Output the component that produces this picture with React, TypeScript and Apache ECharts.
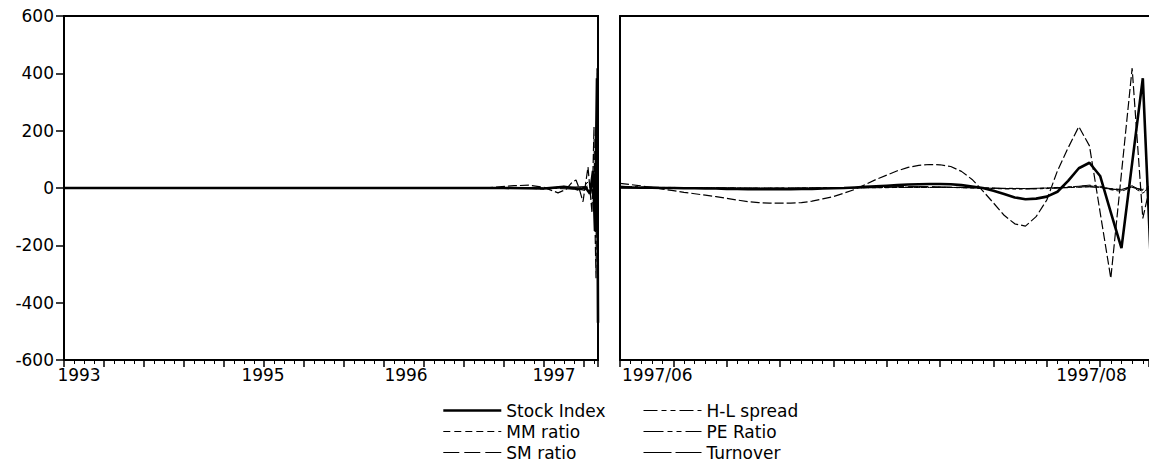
import React, { useEffect, useRef } from 'react';
import * as echarts from 'echarts';

// ---------- axis / tick data ----------
const yMin = -600;
const yMax = 600;
const yStep = 200;

// left panel: whole sample (positions in axis units)
const leftAxisMax = 53.4;
const leftTickLabels = ['1993', '1995', '1996', '1997'];
const leftTickPos = [1.5, 19.9, 34.2, 49.0];

// right panel: daily observations 0..50 (1997/06 - 1997/08); the panel is cut at the page edge
const rightAxisMax = 49.58;
const rightTickLabels = ['1997/06', '1997/08'];
const rightTickPos = [3.5, 44.2];

// ---------- series (right panel, one value per observation) ----------
const stockIndex = [3, 2, 1, 1, 0, 0, -1, -1, -2, -2, -3, -3, -4, -4, -4, -4, -4, -3, -3, -2, -1, 0, 2, 4, 6, 8, 10, 12, 13, 14, 14, 13, 10, 5, 0, -10, -21, -33, -39, -37, -30, -13, 25, 69, 88, 42, -85, -210, 87, 383, -470];
const hlSpread = [6, 5, 4, 3, 2, 2, 1, 1, 0, 0, 0, -1, -1, -1, -1, -1, -1, -1, 0, 0, 0, 0, 1, 1, 2, 2, 3, 3, 3, 3, 3, 2, 2, 1, 0, -1, -2, -3, -3, -3, -2, 0, 3, 6, 10, 6, -3, -8, 2, -5, 12];
const mmRatio = [2, 2, 1, 1, 1, 0, 0, 0, 0, 0, -1, -1, -1, -1, -1, -1, -1, 0, 0, 0, 0, 0, 1, 1, 1, 2, 2, 2, 2, 2, 2, 2, 1, 0, -1, -2, -3, -3, -3, -2, 0, 2, 4, 6, 8, 3, -6, -12, 4, -18, 10];
const peRatio = [1, 1, 1, 1, 0, 0, 0, 0, 0, 0, 0, 0, -1, -1, -1, -1, -1, -1, -1, 0, 0, 0, 0, 1, 1, 1, 2, 2, 2, 2, 2, 2, 1, 1, 0, 0, -1, -1, -2, -2, -1, 0, 1, 3, 4, 2, -2, -5, 3, -8, 6];
const smRatio = [16, 12, 7, 2, -4, -9, -15, -20, -25, -30, -36, -42, -48, -51, -53, -53, -53, -51, -46, -38, -30, -18, -5, 12, 30, 45, 60, 72, 79, 82, 81, 75, 58, 30, -10, -52, -95, -125, -133, -100, -42, 60, 140, 214, 147, -85, -315, 52, 418, -106, 60];
const turnover = [0, 0, 0, 0, 0, 0, 0, 0, 0, 0, 0, 0, 0, 0, 0, 0, 0, 0, 0, 0, 0, 0, 1, 2, 3, 4, 5, 5, 5, 5, 4, 3, 2, 1, 0, -1, -2, -2, -2, -1, 0, 1, 2, 3, 5, 2, -4, -6, 8, -13, 5];

// ---------- series (left panel, whole sample, [position, value]) ----------
const stockIndexFull = [[0, 0], [44, 0], [48, -2], [50, 4], [51.5, -3], [52.2, 0], [52.6, -20], [52.9, 60], [53.1, -150], [53.3, 383], [53.4, -470]];
const hlSpreadFull = [[0, 0], [47, 0], [50.5, 3], [52, -8], [53, 15], [53.4, -20]];
const mmRatioFull = [[0, 0], [46, 0], [48, -4], [50, 6], [51.6, -10], [52.5, 25], [53, -40], [53.4, 10]];
const peRatioFull = [[0, 0], [48, 0], [51, -4], [52.8, 10], [53.4, -8]];
const smRatioFull = [[0, 0], [42, 0], [45, 8], [46.5, 10], [48, 2], [49.4, -17], [50.2, -5], [50.8, 20], [51.2, 28], [51.5, 0], [51.9, -48], [52.4, 73], [52.8, -87], [53.0, 213], [53.1, -133], [53.2, -315], [53.3, 418], [53.4, -106]];
const turnoverFull = [[0, 0], [49, 0], [52, 5], [53.2, -10], [53.4, 5]];

const names = ['Stock Index', 'H-L spread', 'MM ratio', 'PE Ratio', 'SM ratio', 'Turnover'];
const rightData = [stockIndex, hlSpread, mmRatio, peRatio, smRatio, turnover];
const leftData = [stockIndexFull, hlSpreadFull, mmRatioFull, peRatioFull, smRatioFull, turnoverFull];

const plotDash: any[] = ['solid', [12, 3, 3, 3, 3, 3], [4, 3], [14, 3, 4, 3, 4, 3], [9, 3], [20, 4]];
const legendDash: any[] = ['solid', [14, 4, 5, 4, 5, 4], [7, 4], [20, 4, 5, 4, 5, 4], [16, 5], [28, 4]];
const lineWidths = [2.6, 1, 1, 1, 1.2, 1];

const FONT = 'DejaVu Sans';

function pickLabel(labels: string[], pos: number[]) {
  return (v: number) => {
    for (let i = 0; i < pos.length; i++) {
      if (Math.abs(pos[i] - v) < 1e-6) return labels[i];
    }
    return '';
  };
}

export default function App() {
  const ref = useRef<HTMLDivElement>(null);

  useEffect(() => {
    if (!ref.current) return;
    const chart = echarts.init(ref.current, undefined, { renderer: 'svg' });

    const axisLineStyle = { color: '#000', width: 2 };
    const labelStyle = { color: '#000', fontSize: 17, fontFamily: FONT };

    const series: any[] = [];
    // thin series first, Stock Index last (drawn on top)
    const order = [1, 2, 3, 4, 5, 0];
    for (const i of order) {
      series.push({
        name: names[i],
        type: 'line',
        xAxisIndex: 0,
        yAxisIndex: 0,
        symbol: 'none',
        data: leftData[i],
        lineStyle: { color: '#000', width: lineWidths[i], type: plotDash[i] },
        itemStyle: { color: '#000' },
      });
      series.push({
        name: names[i],
        type: 'line',
        xAxisIndex: 1,
        yAxisIndex: 1,
        symbol: 'none',
        data: rightData[i].map((v, k) => [k, v]),
        lineStyle: { color: '#000', width: lineWidths[i], type: plotDash[i] },
        itemStyle: { color: '#000' },
      });
    }

    const legendItem = (i: number) => ({
      name: names[i],
      itemStyle: { opacity: 0, borderWidth: 0 },
      lineStyle: { color: '#000', width: lineWidths[i], type: legendDash[i], opacity: 1 },
    });

    const legendBase = {
      orient: 'vertical',
      top: 402,
      padding: 0,
      itemWidth: 58,
      itemHeight: 14,
      itemGap: 4,
      textStyle: { fontSize: 17, fontFamily: FONT, color: '#000' },
    };

    chart.setOption({
      animation: false,
      backgroundColor: '#fff',
      textStyle: { fontFamily: FONT, color: '#000' },
      grid: [
        { left: 64, top: 16, width: 534, height: 344, show: true, borderColor: '#000', borderWidth: 2 },
        { left: 620, top: 16, width: 529, height: 344, show: false },
      ],
      xAxis: [
        {
          type: 'value',
          gridIndex: 0,
          min: 0,
          max: leftAxisMax,
          interval: 4,
          axisLine: { onZero: false, lineStyle: axisLineStyle },
          axisTick: { show: true, length: 7, lineStyle: { color: '#000', width: 1.5 } },
          minorTick: { show: true, splitNumber: 4, length: 4, lineStyle: { color: '#000', width: 1 } },
          splitLine: { show: false },
          minorSplitLine: { show: false },
          axisLabel: {
            ...labelStyle,
            margin: 6,
            customValues: leftTickPos,
            formatter: pickLabel(leftTickLabels, leftTickPos),
          },
        },
        {
          type: 'value',
          gridIndex: 1,
          min: 0,
          max: rightAxisMax,
          interval: 5,
          axisLine: { onZero: false, lineStyle: axisLineStyle },
          axisTick: { show: true, length: 7, lineStyle: { color: '#000', width: 1.5 } },
          minorTick: { show: true, splitNumber: 5, length: 4, lineStyle: { color: '#000', width: 1 } },
          splitLine: { show: false },
          minorSplitLine: { show: false },
          axisLabel: {
            ...labelStyle,
            margin: 6,
            customValues: rightTickPos,
            formatter: pickLabel(rightTickLabels, rightTickPos),
          },
        },
        {
          // top border of the right panel
          type: 'value',
          gridIndex: 1,
          position: 'top',
          min: 0,
          max: rightAxisMax,
          axisLine: { show: true, onZero: false, lineStyle: axisLineStyle },
          axisTick: { show: false },
          axisLabel: { show: false },
          splitLine: { show: false },
        },
      ],
      yAxis: [
        {
          type: 'value',
          gridIndex: 0,
          min: yMin,
          max: yMax,
          interval: yStep,
          axisLine: { show: true, onZero: false, lineStyle: axisLineStyle },
          axisTick: { show: true, length: 8, lineStyle: { color: '#000', width: 1.5 } },
          splitLine: { show: false },
          axisLabel: { ...labelStyle, margin: 10 },
        },
        {
          type: 'value',
          gridIndex: 1,
          min: yMin,
          max: yMax,
          interval: yStep,
          axisLine: { show: true, onZero: false, lineStyle: axisLineStyle },
          axisTick: { show: false },
          splitLine: { show: false },
          axisLabel: { show: false },
        },
      ],
      legend: [
        { ...legendBase, left: 442, data: [legendItem(0), legendItem(2), legendItem(4)] },
        { ...legendBase, left: 643, data: [legendItem(1), legendItem(3), legendItem(5)] },
      ],
      series,
    });

    return () => {
      chart.dispose();
    };
  }, []);

  return (
    <div
      ref={ref}
      style={{ position: 'absolute', left: 0, top: 0, width: 1149, height: 464, background: '#fff' }}
    />
  );
}
